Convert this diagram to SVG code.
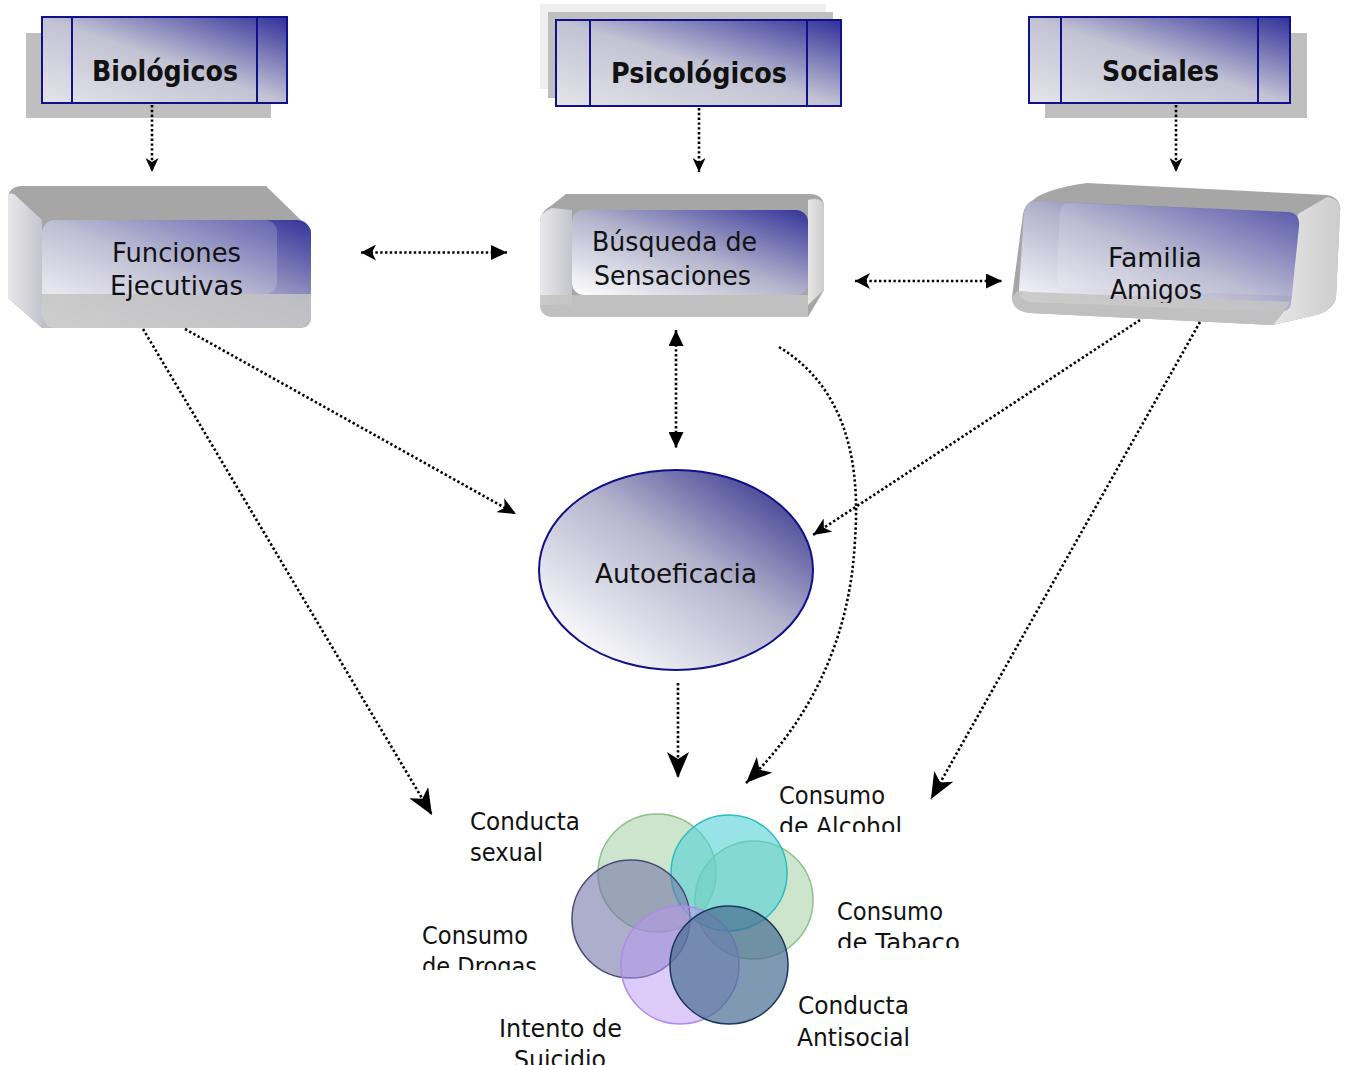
<svg xmlns="http://www.w3.org/2000/svg" width="1345" height="1065" viewBox="0 0 1345 1065">
  <defs>
    <style>
      .hdr { fill: url(#hdrGrad); stroke: #10108a; stroke-width: 2; }
      .hdrLine { stroke: #10108a; stroke-width: 2; }
      .shadow { fill: #bfbfbf; }
      .title { font-family: "DejaVu Sans", Verdana, sans-serif; font-weight: bold; font-size: 29px; fill: #111; }
      .label { font-family: "DejaVu Sans", Verdana, sans-serif; font-size: 27px; fill: #111; }
      .small { font-family: "DejaVu Sans", Verdana, sans-serif; font-size: 24px; fill: #111; }
      .dot { fill: none; stroke: #000; stroke-width: 2.6; stroke-dasharray: 2.4 2.4; }
      .top { fill: #a6a6a6; }
      .band { fill: #c4c4c4; opacity: 0.85; }
      .circle { stroke-width: 1.5; }
    </style>
    <linearGradient id="hdrGrad" x1="0" y1="1" x2="1" y2="0">
      <stop offset="0" stop-color="#e4e4e8"/>
      <stop offset="0.5" stop-color="#c2c2d4"/>
      <stop offset="1" stop-color="#30309a"/>
    </linearGradient>
    <linearGradient id="faceGrad" x1="0" y1="1" x2="1" y2="0">
      <stop offset="0" stop-color="#ffffff"/>
      <stop offset="0.5" stop-color="#b2b2cc"/>
      <stop offset="1" stop-color="#33339a"/>
    </linearGradient>
    <linearGradient id="ovalGrad" x1="0.15" y1="0.95" x2="0.95" y2="0.1">
      <stop offset="0" stop-color="#ffffff"/>
      <stop offset="0.55" stop-color="#b4b4ce"/>
      <stop offset="1" stop-color="#38388f"/>
    </linearGradient>
    <linearGradient id="sideGrad" x1="0" y1="0" x2="1" y2="0">
      <stop offset="0" stop-color="#e8e8ec"/>
      <stop offset="1" stop-color="#c4c4cc"/>
    </linearGradient>
    <linearGradient id="rightGrad" x1="0" y1="0" x2="1" y2="0">
      <stop offset="0" stop-color="#e6e6e6"/>
      <stop offset="1" stop-color="#cdcdcd"/>
    </linearGradient>

    <marker id="stealthS" viewBox="0 0 14 13" refX="14" refY="6.5" markerWidth="14" markerHeight="13" markerUnits="userSpaceOnUse" orient="auto-start-reverse">
      <path d="M0,0 L14,6.5 L0,13 L4,6.5 Z" fill="#000"/>
    </marker>
    <marker id="stealthM" viewBox="0 0 18 16" refX="18" refY="8" markerWidth="18" markerHeight="16" markerUnits="userSpaceOnUse" orient="auto-start-reverse">
      <path d="M0,0 L18,8 L0,16 L5,8 Z" fill="#000"/>
    </marker>
    <marker id="stealthL" viewBox="0 0 26 22" refX="26" refY="11" markerWidth="26" markerHeight="22" markerUnits="userSpaceOnUse" orient="auto-start-reverse">
      <path d="M0,0 L26,11 L0,22 L7,11 Z" fill="#000"/>
    </marker>
    <marker id="tri" viewBox="0 0 16 15" refX="16" refY="7.5" markerWidth="16" markerHeight="15" markerUnits="userSpaceOnUse" orient="auto-start-reverse">
      <path d="M0,0 L16,7.5 L0,15 Z" fill="#000"/>
    </marker>
    <marker id="barb" viewBox="0 0 15 16" refX="15" refY="8" markerWidth="15" markerHeight="16" markerUnits="userSpaceOnUse" orient="auto-start-reverse">
      <path d="M0,0 L15,8 L0,16 L4,8 Z" fill="#000"/>
    </marker>

    <clipPath id="clipAmigos"><rect x="1000" y="270" width="300" height="33"/></clipPath>
    <clipPath id="clipAlcohol"><rect x="760" y="810" width="200" height="22"/></clipPath>
    <clipPath id="clipTabaco"><rect x="820" y="925" width="200" height="23"/></clipPath>
    <clipPath id="clipDrogas"><rect x="400" y="948" width="200" height="22"/></clipPath>
  </defs>

  <rect width="1345" height="1065" fill="#ffffff"/>

  <!-- header boxes -->
  <g id="biologicos">
    <rect class="shadow" x="26" y="33" width="245" height="85"/>
    <rect class="hdr" x="42" y="17" width="245" height="86"/>
    <line class="hdrLine" x1="72" y1="17" x2="72" y2="103"/>
    <line class="hdrLine" x1="257" y1="17" x2="257" y2="103"/>
    <text class="title" x="92" y="81" textLength="146" lengthAdjust="spacingAndGlyphs">Biológicos</text>
  </g>

  <g id="psicologicos">
    <rect x="540" y="4" width="286" height="85" fill="#efefef"/>
    <rect class="shadow" x="548" y="12" width="285" height="86"/>
    <rect class="hdr" x="556" y="20" width="285" height="86"/>
    <line class="hdrLine" x1="590" y1="20" x2="590" y2="106"/>
    <line class="hdrLine" x1="807" y1="20" x2="807" y2="106"/>
    <text class="title" x="611" y="83" textLength="176" lengthAdjust="spacingAndGlyphs">Psicológicos</text>
  </g>

  <g id="sociales">
    <rect class="shadow" x="1045" y="33" width="262" height="85"/>
    <rect class="hdr" x="1029" y="17" width="261" height="86"/>
    <line class="hdrLine" x1="1061" y1="17" x2="1061" y2="103"/>
    <line class="hdrLine" x1="1258" y1="17" x2="1258" y2="103"/>
    <text class="title" x="1102" y="81" textLength="117" lengthAdjust="spacingAndGlyphs">Sociales</text>
  </g>

  <!-- bevelled boxes -->
  <g id="funciones">
    <path class="top" d="M22,186 H266 L311,230 V316 Q311,328 299,328 H42 L8,298 V200 Q8,186 22,186 Z"/>
    <path d="M8,198 Q8,192 14,194 L42,220 V328 L8,298 Z" fill="url(#sideGrad)"/>
    <rect x="42" y="220" width="269" height="108" rx="14" fill="url(#faceGrad)"/>
    <path class="band" d="M42,294 H311 V314 Q311,328 297,328 H42 Z"/>
    <rect x="42" y="220" width="235" height="74" rx="12" fill="#ffffff" opacity="0.18"/>
    <text class="label" x="112" y="262" textLength="129" lengthAdjust="spacingAndGlyphs">Funciones</text>
    <text class="label" x="110" y="295" textLength="133" lengthAdjust="spacingAndGlyphs">Ejecutivas</text>
  </g>

  <g id="busqueda">
    <path class="top" d="M566,194 H810 Q824,194 824,208 V290 L808,317 H554 Q540,317 540,303 V222 Q540,212 552,205 Z"/>
    <path d="M540,222 Q540,212 552,208 L572,210 V305 H540 Z" fill="url(#sideGrad)"/>
    <path d="M808,200 Q824,196 824,208 V290 L808,305 Z" fill="url(#rightGrad)"/>
    <rect x="572" y="210" width="236" height="85" rx="12" fill="url(#faceGrad)"/>
    <path class="band" d="M540,295 H808 V317 H554 Q540,317 540,303 Z"/>
    <text class="label" x="592" y="251" textLength="165" lengthAdjust="spacingAndGlyphs">Búsqueda de</text>
    <text class="label" x="594" y="285" textLength="157" lengthAdjust="spacingAndGlyphs">Sensaciones</text>
  </g>

  <g id="familia">
    <path class="top" d="M1033,200 Q1045,189 1087,183 L1327,195 Q1342,198 1340,212 L1336,298 Q1334,308 1320,314 L1273,325 L1030,313 Q1012,311 1012,297 L1023,214 Q1025,204 1033,200 Z"/>
    <path d="M1298,214 L1327,197 Q1342,199 1340,212 L1336,298 Q1334,308 1320,314 L1273,325 L1288,306 Z" fill="url(#rightGrad)"/>
    <path d="M1036,201 L1288,212 Q1300,213 1299,226 L1291,304 Q1290,312 1278,312 L1030,302 Q1018,300 1019,289 L1024,213 Q1025,201 1036,201 Z" fill="url(#faceGrad)"/>
    <path d="M1068,203 L1288,212 Q1300,213 1299,226 L1292,296 L1068,288 Q1056,288 1057,276 L1060,212 Q1061,203 1068,203 Z" fill="#ffffff" opacity="0.15"/>
    <path class="band" d="M1016,292 Q1020,290 1030,292 L1290,302 L1273,325 L1030,313 Q1012,311 1012,297 Z"/>
    <text class="label" x="1108" y="267" textLength="94" lengthAdjust="spacingAndGlyphs">Familia</text>
    <text class="label" x="1110" y="299" textLength="92" lengthAdjust="spacingAndGlyphs" clip-path="url(#clipAmigos)">Amigos</text>
  </g>

  <g id="autoeficacia">
    <ellipse cx="676" cy="570" rx="137" ry="100" fill="url(#ovalGrad)" stroke="#10108a" stroke-width="2"/>
    <text class="label" x="595" y="583" textLength="162" lengthAdjust="spacingAndGlyphs">Autoeficacia</text>
  </g>

  <!-- overlapping circles of risk behaviours -->
  <g id="conductas">
    <circle class="circle" cx="657" cy="873" r="59" fill="#9ccc9a" fill-opacity="0.5" stroke="#8cc08b"/>
    <circle class="circle" cx="754" cy="900" r="59" fill="#9ccc9a" fill-opacity="0.5" stroke="#8cc08b"/>
    <circle class="circle" cx="729" cy="873" r="58" fill="#53d0d5" fill-opacity="0.6" stroke="#2cbcc4"/>
    <circle class="circle" cx="631" cy="919" r="59" fill="#7678a8" fill-opacity="0.6" stroke="#4a4a78"/>
    <circle class="circle" cx="680" cy="965" r="59" fill="#b997f1" fill-opacity="0.5" stroke="#b08ae6"/>
    <circle class="circle" cx="729" cy="965" r="59" fill="#486d92" fill-opacity="0.7" stroke="#1a3560"/>
  </g>

  <g id="labels">
    <text class="small" x="470" y="830" textLength="110" lengthAdjust="spacingAndGlyphs">Conducta</text>
    <text class="small" x="470" y="861" textLength="73" lengthAdjust="spacingAndGlyphs">sexual</text>
    <text class="small" x="779" y="804" textLength="106" lengthAdjust="spacingAndGlyphs">Consumo</text>
    <text class="small" x="779" y="835" textLength="123" lengthAdjust="spacingAndGlyphs" clip-path="url(#clipAlcohol)">de Alcohol</text>
    <text class="small" x="837" y="920" textLength="106" lengthAdjust="spacingAndGlyphs">Consumo</text>
    <text class="small" x="837" y="951" textLength="123" lengthAdjust="spacingAndGlyphs" clip-path="url(#clipTabaco)">de Tabaco</text>
    <text class="small" x="422" y="944" textLength="106" lengthAdjust="spacingAndGlyphs">Consumo</text>
    <text class="small" x="422" y="975" textLength="115" lengthAdjust="spacingAndGlyphs" clip-path="url(#clipDrogas)">de Drogas</text>
    <text class="small" x="798" y="1014" textLength="111" lengthAdjust="spacingAndGlyphs">Conducta</text>
    <text class="small" x="797" y="1046" textLength="113" lengthAdjust="spacingAndGlyphs">Antisocial</text>
    <text class="small" x="499" y="1037" textLength="123" lengthAdjust="spacingAndGlyphs">Intento de</text>
    <text class="small" x="514" y="1068" textLength="92" lengthAdjust="spacingAndGlyphs">Suicidio</text>
  </g>

  <!-- connectors -->
  <g id="connectors">
    <path class="dot" d="M152,105 V172" marker-end="url(#stealthS)"/>
    <path class="dot" d="M699,108 V172" marker-end="url(#stealthS)"/>
    <path class="dot" d="M1176,105 V172" marker-end="url(#stealthS)"/>
    <path class="dot" d="M361,252.5 H507" marker-start="url(#barb)" marker-end="url(#tri)"/>
    <path class="dot" d="M855,281 H1002" marker-start="url(#barb)" marker-end="url(#tri)"/>
    <path class="dot" d="M676,330 V448" marker-start="url(#tri)" marker-end="url(#tri)"/>
    <path class="dot" d="M185,329 L516,514" marker-end="url(#stealthM)"/>
    <path class="dot" d="M1140,320 L813,535" marker-end="url(#stealthM)"/>
    <path class="dot" d="M143,329 L432,815" marker-end="url(#stealthL)"/>
    <path class="dot" d="M1200,322 L931,799" marker-end="url(#stealthL)"/>
    <path class="dot" d="M678,683 V778" marker-end="url(#stealthL)"/>
    <path class="dot" d="M779,347 C850,390 860,470 855,540 C850,640 810,720 746,783" marker-end="url(#stealthL)"/>
  </g>
</svg>
